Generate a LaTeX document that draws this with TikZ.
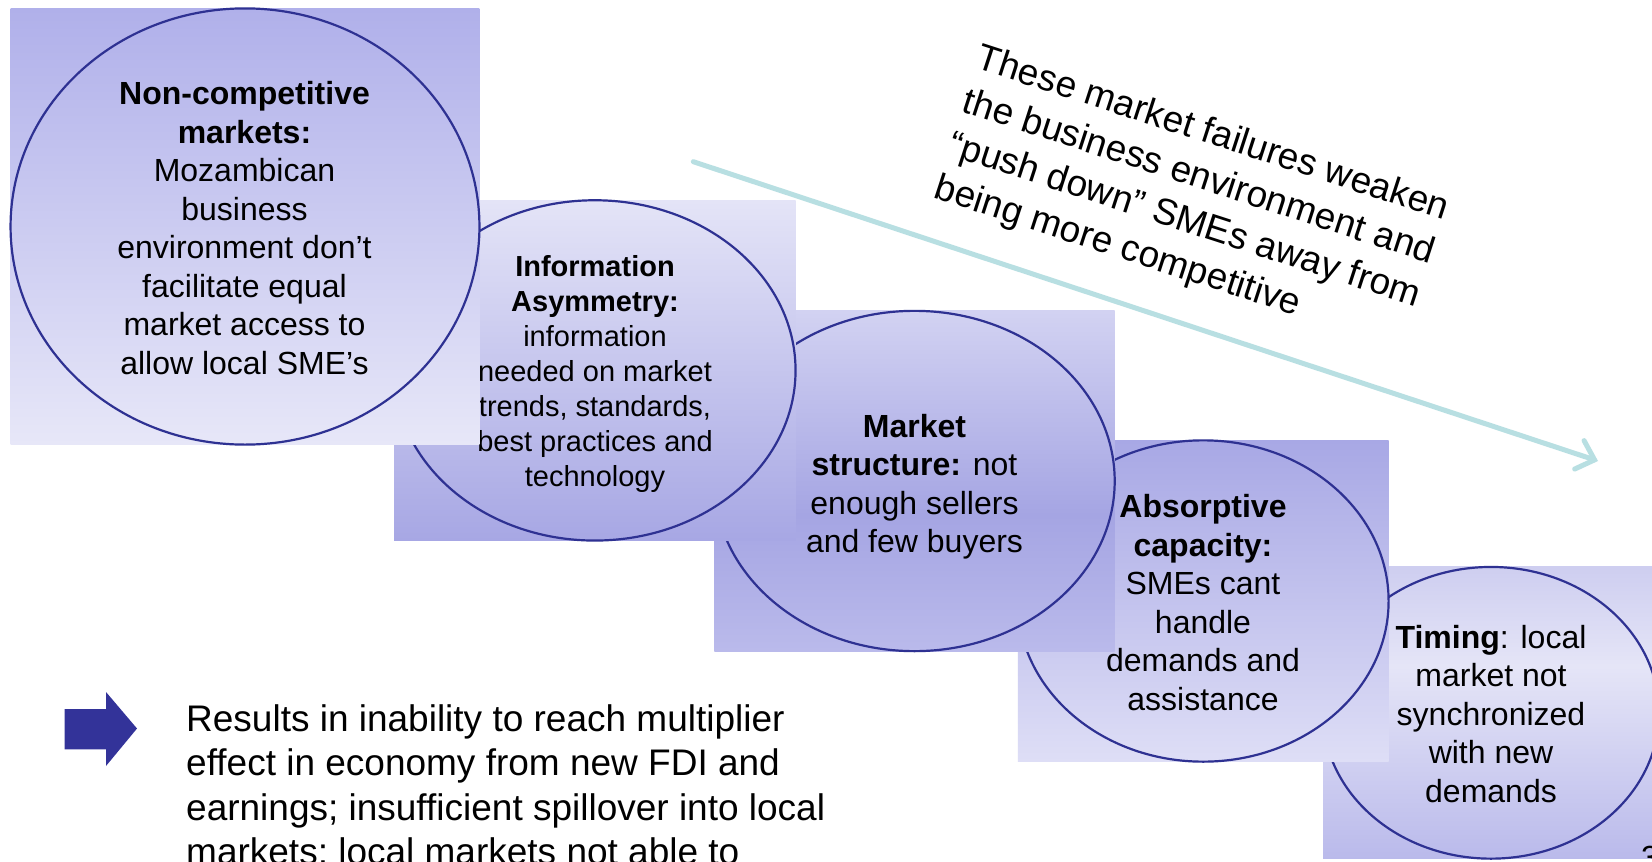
\documentclass[tikz,border=0pt]{standalone}
\usepackage{fontspec}
\setmainfont{Liberation Sans}
\usetikzlibrary{shapes.geometric,arrows.meta}
\definecolor{ringblue}{RGB}{46,49,146}
\definecolor{arrowblue}{RGB}{51,51,153}
\definecolor{tealline}{RGB}{184,223,226}
% panel colours
\definecolor{aTop}{RGB}{176,176,234}\definecolor{aBot}{RGB}{231,231,248}
\definecolor{bTop}{RGB}{228,228,247}\definecolor{bBot}{RGB}{167,167,228}
\definecolor{cTop}{RGB}{210,210,242}\definecolor{cMid}{RGB}{165,165,227}\definecolor{cBot}{RGB}{186,186,235}
\definecolor{dTop}{RGB}{168,168,229}\definecolor{dBot}{RGB}{222,222,246}
\definecolor{eTop}{RGB}{206,206,240}\definecolor{eMid}{RGB}{229,229,247}\definecolor{eBot}{RGB}{186,186,235}
\pgfdeclareverticalshading{shadeA}{100bp}{color(0bp)=(aBot); color(25bp)=(aBot); color(75bp)=(aTop); color(100bp)=(aTop)}
\pgfdeclareverticalshading{shadeB}{100bp}{color(0bp)=(bBot); color(25bp)=(bBot); color(75bp)=(bTop); color(100bp)=(bTop)}
\pgfdeclareverticalshading{shadeC}{100bp}{color(0bp)=(cBot); color(25bp)=(cBot); color(45bp)=(cMid); color(75bp)=(cTop); color(100bp)=(cTop)}
\pgfdeclareverticalshading{shadeD}{100bp}{color(0bp)=(dBot); color(25bp)=(dBot); color(75bp)=(dTop); color(100bp)=(dTop)}
\pgfdeclareverticalshading{shadeE}{100bp}{color(0bp)=(eBot); color(25bp)=(eBot); color(58bp)=(eMid); color(75bp)=(eTop); color(100bp)=(eTop)}
\tikzset{
  panel/.style={shade, inner sep=0pt, outer sep=0pt},
  ring/.style={ellipse, draw=ringblue, line width=2.2pt, inner sep=0pt, outer sep=0pt},
  ringtext/.style={align=center, inner sep=0pt, font=\fontsize{32}{38.5}\selectfont},
  smalltext/.style={align=center, inner sep=0pt, font=\fontsize{29}{35}\selectfont},
  bigtext/.style={align=left, inner sep=0pt, font=\fontsize{37}{44.6}\selectfont},
  slanttext/.style={align=left, inner sep=0pt, rotate=-18, font=\fontsize{37}{45.5}\selectfont},
  tealarrow/.style={draw=tealline, line width=5pt, line cap=round, -{Straight Barb[length=16pt,width=30pt,line cap=round]}},
}
\begin{document}
\begin{tikzpicture}[x=1pt,y=-1pt]
\useasboundingbox (0,0) rectangle (1652,862);
\clip (0,0) rectangle (1652,862);
\fill[white] (0,0) rectangle (1652,862);

% group 5: Timing
\node[panel, shading=shadeE, minimum width=336, minimum height=291.7] (r5) at (1491,712.8) {};
\node[ring, minimum width=336, minimum height=291.7] (e5) at (r5.center) {};
\node[ringtext] (t5) at (1491,714) {\textbf{Timing}: local\\market not\\synchronized\\with new\\demands};

% group 4: Absorptive capacity
\node[panel, shading=shadeD, minimum width=370.8, minimum height=321.3] (r4) at (1203.2,601) {};
\node[ring, minimum width=370.8, minimum height=321.3] (e4) at (r4.center) {};
\node[ringtext] (t4) at (1203,602.6) {\textbf{Absorptive}\\\textbf{capacity:}\\SMEs cant\\handle\\demands and\\assistance};

% group 3: Market structure
\node[panel, shading=shadeC, minimum width=400.4, minimum height=340.3] (r3) at (914.5,481) {};
\node[ring, minimum width=400.4, minimum height=340.3] (e3) at (r3.center) {};
\node[ringtext] (t3) at (914.5,486.5) {\textbf{Market}\\\textbf{structure:} not\\enough sellers\\and few buyers};

% group 2: Information asymmetry
\node[panel, shading=shadeB, minimum width=401.5, minimum height=340.3] (r2) at (594.8,370.4) {};
\node[ring, minimum width=401.5, minimum height=340.3] (e2) at (r2.center) {};
\node[smalltext] (t2) at (595,373.5) {\textbf{Information}\\\textbf{Asymmetry:}\\information\\needed on market\\trends, standards,\\best practices and\\technology};

% group 1: Non-competitive markets
\node[panel, shading=shadeA, minimum width=468.9, minimum height=436.2] (r1) at (245,226.5) {};
\node[ring, minimum width=468.9, minimum height=436.2] (e1) at (r1.center) {};
\node[ringtext] (t1) at (244.5,228) {\textbf{Non-competitive}\\\textbf{markets:}\\Mozambican\\business\\environment don’t\\facilitate equal\\market access to\\allow local SME’s};

% teal arrow and slanted note
\coordinate (arrS) at (693.3,161.7);
\coordinate (arrE) at (1598,461);
\draw[tealarrow] (arrS) -- (arrE);
\node[slanttext, anchor=north west] (note) at (983,42) {These market failures weaken\\the business environment and\\“push down” SMEs away from\\being more competitive};

% bottom block arrow and result text
\fill[arrowblue] (64.7,709) -- (106,709) -- (106,692) -- (137,728.5) -- (106,766) -- (106,749.3) -- (64.7,749.3) -- cycle;
\node[bigtext, anchor=north west] (res) at (186,704) {Results in inability to reach multiplier\\effect in economy from new FDI and\\earnings; insufficient spillover into local\\markets; local markets not able to};

% page number
\node[inner sep=0pt, anchor=base west, font=\fontsize{32}{38}\selectfont] (pg) at (1641,868) {3};
\end{tikzpicture}
\end{document}
